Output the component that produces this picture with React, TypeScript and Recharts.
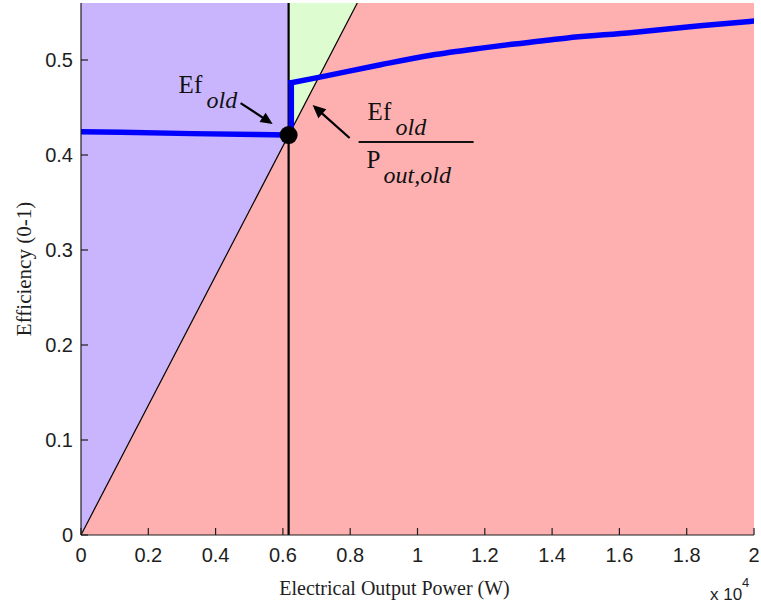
import React from 'react';
import { ComposedChart, Area, Line, XAxis, YAxis, ReferenceDot } from 'recharts';

// Axis ticks and their printed labels (x axis is shown in units of 10^4 W)
const xTicks = [0, 2000, 4000, 6000, 8000, 10000, 12000, 14000, 16000, 18000, 20000];
const xTickLabels = ['0', '0.2', '0.4', '0.6', '0.8', '1', '1.2', '1.4', '1.6', '1.8', '2'];
const yTicks = [0, 0.1, 0.2, 0.3, 0.4, 0.5];
const yTickLabels = ['0', '0.1', '0.2', '0.3', '0.4', '0.5'];

const xMax = 20000;
const yMax = 0.56;

// Old operating point
const oldPower = 6170;
const oldEfficiency = 0.421;
// Where the line Ef_old / P_out,old * P reaches the top of the axes
const slopeTopPower = 8210;

// Efficiency curve below the switch point (ends in the jump up)
const lowPower = [0, 1200, 3300, 5200, 6170, 6250, 6250];
const lowEfficiency = [0.4245, 0.424, 0.4225, 0.4215, 0.421, 0.421, 0.476];
// Efficiency curve above the switch point
const highPower = [6250, 7100, 8900, 10400, 11900, 12800, 14400, 16400, 18400, 20000];
const highEfficiency = [0.476, 0.482, 0.495, 0.505, 0.5125, 0.5165, 0.523, 0.529, 0.536, 0.541];

const lowData = lowPower.map((p, i) => ({ p, e: lowEfficiency[i] }));
const highData = highPower.map((p, i) => ({ p, e: highEfficiency[i] }));

// Shaded regions as [low, high] bands
const pinkRegion = [
  { p: 0, band: [0, yMax] },
  { p: xMax, band: [0, yMax] },
];
const purpleRegion = [
  { p: 0, band: [0, yMax] },
  { p: oldPower, band: [oldEfficiency, yMax] },
];
const greenRegion = [
  { p: oldPower, band: [oldEfficiency, yMax] },
  { p: slopeTopPower, band: [yMax, yMax] },
];
const slopeLine = [
  { p: 0, e: 0 },
  { p: slopeTopPower, e: yMax },
];
const oldPowerLine = [
  { p: oldPower, e: 0 },
  { p: oldPower, e: yMax },
];

const SERIF = '"Liberation Serif", "Times New Roman", serif';
const SANS = '"Liberation Sans", Arial, sans-serif';
const INK = '#1e1e1e';

function arrow(x1: number, y1: number, x2: number, y2: number, head: number, half: number) {
  const dx = x2 - x1;
  const dy = y2 - y1;
  const len = Math.hypot(dx, dy);
  const ux = dx / len;
  const uy = dy / len;
  const bx = x2 - ux * head;
  const by = y2 - uy * head;
  const pts = `${x2},${y2} ${bx - uy * half},${by + ux * half} ${bx + uy * half},${by - ux * half}`;
  return (
    <g>
      <line x1={x1} y1={y1} x2={bx + ux * 2} y2={by + uy * 2} stroke="#000" strokeWidth={2.2} />
      <polygon points={pts} fill="#000" />
    </g>
  );
}

// Marker at the old operating point, with its annotations
const OldPointMarker = (props: any) => {
  const { cx, cy } = props;
  return (
    <g>
      <circle cx={cx} cy={cy} r={9} fill="#000" />
      <g transform={`translate(${cx},${cy})`} fill="#111" fontFamily={SERIF}>
        <text x={-110} y={-42} fontSize={25}>Ef</text>
        <text x={-82} y={-27} fontSize={24} fontStyle="italic">old</text>
        {arrow(-48, -32, -16, -11, 12, 5.5)}
        {arrow(61, 3, 24, -30, 13, 6)}
        <text x={79} y={-15} fontSize={25}>Ef</text>
        <text x={107} y={0} fontSize={24} fontStyle="italic">old</text>
        <line x1={70} y1={7} x2={185} y2={7} stroke="#111" strokeWidth={2} />
        <text x={78} y={33} fontSize={25}>P</text>
        <text x={95} y={48} fontSize={24} fontStyle="italic">out,old</text>
      </g>
    </g>
  );
};

const XLabel = (props: any) => {
  const { viewBox } = props;
  const { x, y, width } = viewBox;
  return (
    <g>
      <text x={x + width / 2 - 23} y={y + 60} textAnchor="middle" fontFamily={SERIF} fontSize={20} fill={INK}>
        Electrical Output Power (W)
      </text>
      <text x={x + width - 44} y={y + 65} fontFamily={SANS} fontSize={17} fill={INK}>
        x 10
      </text>
      <text x={x + width - 12} y={y + 52} fontFamily={SANS} fontSize={13} fill={INK}>
        4
      </text>
    </g>
  );
};

const YLabel = (props: any) => {
  const { viewBox } = props;
  const { x, y, height } = viewBox;
  const cx = x + 24;
  const cy = y + height / 2;
  return (
    <text
      x={cx}
      y={cy}
      transform={`rotate(-90, ${cx}, ${cy})`}
      textAnchor="middle"
      dominantBaseline="central"
      fontFamily={SERIF}
      fontSize={21}
      fill={INK}
    >
      Efficiency (0-1)
    </text>
  );
};

const fmtX = (v: number) => {
  const i = xTicks.indexOf(v);
  return i >= 0 ? xTickLabels[i] : '';
};
const fmtY = (v: number) => {
  const i = yTicks.findIndex((t) => Math.abs(t - v) < 1e-9);
  return i >= 0 ? yTickLabels[i] : '';
};

const tickStyle = { fontFamily: SANS, fontSize: 20, fill: INK };

export default function App() {
  return (
    <div style={{ position: 'absolute', left: 0, top: 0, width: 761, height: 605, background: '#fff' }}>
      <ComposedChart width={761} height={605} margin={{ top: 3, right: 7, bottom: 0, left: 0 }}>
        <XAxis
          xAxisId="b"
          dataKey="p"
          type="number"
          domain={[0, xMax]}
          ticks={xTicks}
          tickFormatter={fmtX}
          allowDataOverflow
          height={70}
          tickSize={-7}
          tickMargin={20}
          tick={tickStyle}
          stroke={INK}
          axisLine={{ stroke: INK, strokeWidth: 1.2 }}
          tickLine={{ stroke: INK, strokeWidth: 1.2 }}
          label={<XLabel />}
        />
        <XAxis
          xAxisId="t"
          orientation="top"
          dataKey="p"
          type="number"
          domain={[0, xMax]}
          ticks={xTicks}
          allowDataOverflow
          height={0}
          tickSize={-7}
          tick={false}
          axisLine={{ stroke: INK, strokeWidth: 1.2 }}
          tickLine={{ stroke: INK, strokeWidth: 1.2 }}
        />
        <YAxis
          yAxisId="l"
          type="number"
          domain={[0, yMax]}
          ticks={yTicks}
          tickFormatter={fmtY}
          allowDataOverflow
          width={81}
          tickSize={-7}
          tickMargin={15}
          tick={tickStyle}
          axisLine={{ stroke: INK, strokeWidth: 1.2 }}
          tickLine={{ stroke: INK, strokeWidth: 1.2 }}
          label={<YLabel />}
        />
        <YAxis
          yAxisId="r"
          orientation="right"
          type="number"
          domain={[0, yMax]}
          ticks={yTicks}
          allowDataOverflow
          width={0}
          tickSize={-7}
          tick={false}
          axisLine={{ stroke: INK, strokeWidth: 1.2 }}
          tickLine={{ stroke: INK, strokeWidth: 1.2 }}
        />

        <Area xAxisId="b" yAxisId="l" data={pinkRegion} dataKey="band" type="linear" stroke="none" fill="#FEB0B0" fillOpacity={1} isAnimationActive={false} activeDot={false} />
        <Area xAxisId="b" yAxisId="l" data={purpleRegion} dataKey="band" type="linear" stroke="none" fill="#C9B5FD" fillOpacity={1} isAnimationActive={false} activeDot={false} />
        <Area xAxisId="b" yAxisId="l" data={greenRegion} dataKey="band" type="linear" stroke="none" fill="#DDFDD0" fillOpacity={1} isAnimationActive={false} activeDot={false} />

        <Line xAxisId="b" yAxisId="l" data={slopeLine} dataKey="e" type="linear" stroke="#000" strokeWidth={1.2} dot={false} activeDot={false} isAnimationActive={false} />
        <Line xAxisId="b" yAxisId="l" data={oldPowerLine} dataKey="e" type="linear" stroke="#000" strokeWidth={2.2} dot={false} activeDot={false} isAnimationActive={false} />
        <Line xAxisId="b" yAxisId="l" data={lowData} dataKey="e" type="linear" stroke="#0000FF" strokeWidth={5.5} strokeLinecap="square" dot={false} activeDot={false} isAnimationActive={false} />
        <Line xAxisId="b" yAxisId="l" data={highData} dataKey="e" type="monotone" stroke="#0000FF" strokeWidth={5.5} strokeLinecap="square" dot={false} activeDot={false} isAnimationActive={false} />

        <ReferenceDot xAxisId="b" yAxisId="l" x={oldPower} y={oldEfficiency} r={9} shape={<OldPointMarker />} />
      </ComposedChart>
    </div>
  );
}
